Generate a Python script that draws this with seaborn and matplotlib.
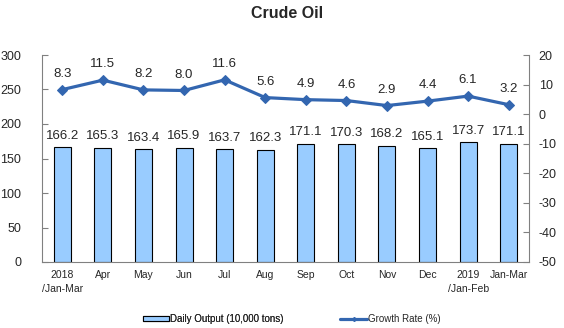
import matplotlib
matplotlib.use("Agg")
import matplotlib.pyplot as plt
import seaborn as sns
import pandas as pd
from matplotlib.patches import Patch
from matplotlib.lines import Line2D

categories = ["2018\n/Jan-Mar", "Apr", "May", "Jun", "Jul", "Aug", "Sep", "Oct",
              "Nov", "Dec", "2019\n/Jan-Feb", "Jan-Mar"]
daily_output = [166.2, 165.3, 163.4, 165.9, 163.7, 162.3, 171.1, 170.3, 168.2, 165.1, 173.7, 171.1]
growth_rate = [8.3, 11.5, 8.2, 8.0, 11.6, 5.6, 4.9, 4.6, 2.9, 4.4, 6.1, 3.2]

sns.set_style("white")
plt.rcParams['font.family'] = ['Liberation Sans', 'DejaVu Sans']
plt.rcParams['axes.unicode_minus'] = False

df = pd.DataFrame({"cat": categories, "pos": range(len(categories)),
                   "output": daily_output, "growth": growth_rate})

fig = plt.figure(figsize=(5.64, 3.28), dpi=100)
ax = fig.add_axes([42/564, 1-262/328, (529-42)/564, (262-55)/328])

bar_color = "#99CCFF"
line_color = "#3366B0"

sns.barplot(data=df, x="cat", y="output", ax=ax, color=bar_color, width=0.42,
            edgecolor="black", linewidth=0.8, saturation=1)
ax.set_ylim(0, 300)
ax.set_yticks(range(0, 301, 50))
ax.set_xlabel("")
ax.set_ylabel("")
for i, v in enumerate(daily_output):
    ax.text(i, v + 8, f"{v:.1f}", ha="center", va="bottom", fontsize=9.5)

ax2 = ax.twinx()
sns.lineplot(data=df, x="pos", y="growth", ax=ax2, color=line_color, linewidth=2.3,
             marker="D", markersize=5, markeredgecolor=line_color)
ax2.set_ylim(-50, 20)
ax2.set_yticks(range(-50, 21, 10))
ax2.set_ylabel("")
ax2.set_xlabel("")
for i, v in enumerate(growth_rate):
    ax2.text(i, v + 3.3, f"{v:.1f}", ha="center", va="bottom", fontsize=9.5)

# x ticks: labels at centres, tick marks at boundaries
ax.set_xlim(-0.5, len(categories) - 0.5)
ax.set_xticks(range(len(categories)))
ax.set_xticklabels(categories, fontsize=7.5, linespacing=1.45)
ax.set_xticks([i + 0.5 for i in range(-1, len(categories))], minor=True)
ax.tick_params(axis="x", which="major", length=0, pad=6)
ax.tick_params(axis="x", which="minor", direction="in", length=4, color="#808080")
ax.tick_params(axis="y", direction="in", length=4, color="#808080", labelsize=9, pad=15)
ax2.tick_params(axis="y", direction="in", length=4, color="#808080", labelsize=9, pad=7)

for a in (ax, ax2):
    a.spines["top"].set_visible(False)
    for s in ("left", "right", "bottom"):
        a.spines[s].set_color("#808080")
        a.spines[s].set_linewidth(0.8)
ax.spines["right"].set_visible(False)
ax2.spines["left"].set_visible(False)
ax2.spines["bottom"].set_visible(False)

fig.text(287/564, 1-13/328, "Crude Oil", ha="center", va="center",
         fontsize=11.5, fontweight="bold")

leg1 = fig.legend([Patch(facecolor=bar_color, edgecolor="black", linewidth=0.8)],
                  ["Daily Output (10,000 tons)"], loc="center left",
                  bbox_to_anchor=(143/564, 1-319/328), frameon=False,
                  prop={'size': 7}, handlelength=2.7, handleheight=0.45,
                  handletextpad=0.05, borderpad=0, borderaxespad=0)
leg2 = fig.legend([Line2D([0], [0], color=line_color, linewidth=2.3, marker="D", markersize=2)],
                  ["Growth Rate (%)"], loc="center left",
                  bbox_to_anchor=(340/564, 1-319/328), frameon=False,
                  prop={'size': 7}, handlelength=2.8,
                  handletextpad=0.05, borderpad=0, borderaxespad=0)
fig.add_artist(leg1)

fig.savefig("out.png", dpi=100)
